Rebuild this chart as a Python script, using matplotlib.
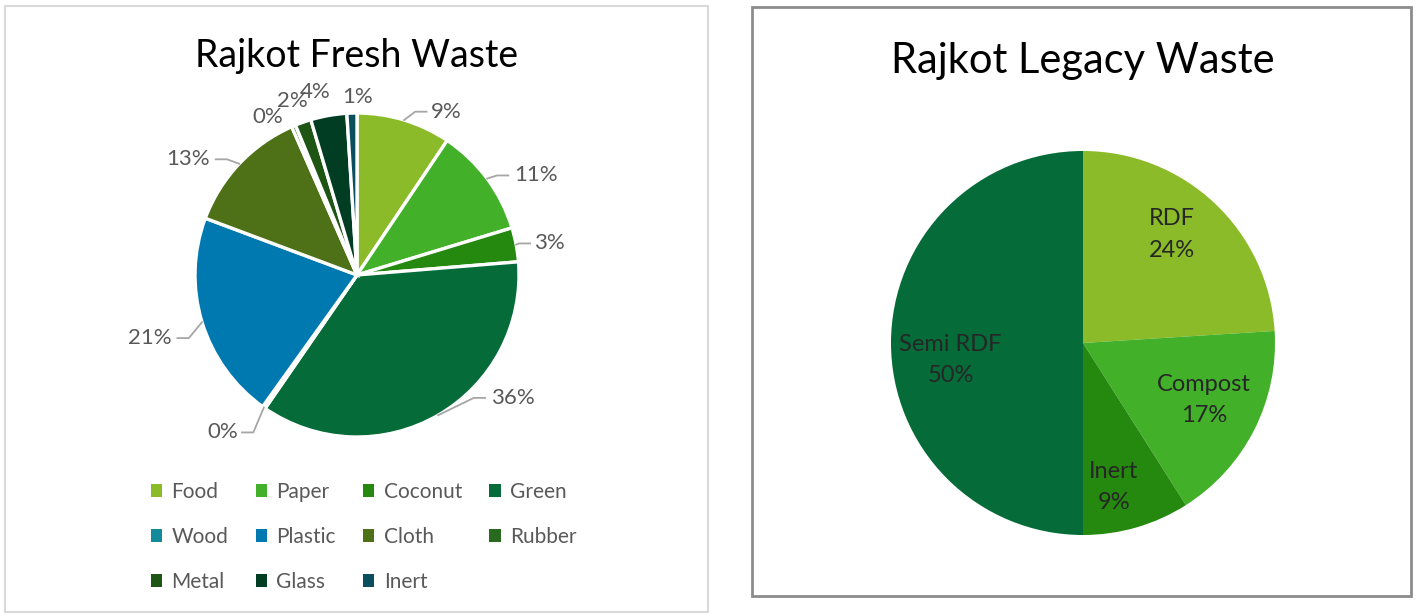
import numpy as np
import matplotlib
matplotlib.use("Agg")
import matplotlib.pyplot as plt
from matplotlib.patches import Rectangle, Patch

plt.rcParams['font.family'] = ['Lato', 'DejaVu Sans']

# fresh waste composition (%)
fresh_labels = ['Food', 'Paper', 'Coconut', 'Green', 'Wood', 'Plastic',
                'Cloth', 'Rubber', 'Metal', 'Glass', 'Inert']
fresh_values = [9.4, 10.9, 3.4, 35.9, 0.3, 20.8, 12.7, 0.4, 1.6, 3.6, 1.0]
fresh_colors = ['#8bbb29', '#43b02a', '#25880f', '#056b38', '#138a9a', '#0079b0',
                '#4e7117', '#2a6a1e', '#1e5514', '#003d22', '#0b4f5f']

# legacy waste composition (%)
legacy_labels = ['RDF', 'Compost', 'Inert', 'Semi RDF']
legacy_values = [24, 17, 9, 50]
legacy_colors = ['#8bbb29', '#43b02a', '#25880f', '#056b38']

# label nudges (Excel style placement) and which labels get a leader line
nudges = [(0.20, -0.14), (0.14, -0.10), (0.01, -0.03), (0.36, 0.28), (-0.14, 0.01),
          (-0.13, -0.04), (-0.17, -0.11), (-0.08, -0.13), (0.0, -0.06),
          (-0.05, -0.05), (0.04, -0.10)]
leaders = [True, True, True, True, True, True, True, False, False, False, False]
nudges2 = [(-0.03, 0.04), (-0.01, 0.03), (-0.04, -0.06), (0.03, -0.09)]

W, H = 1416, 615
fig = plt.figure(figsize=(W / 100, H / 100), dpi=100)

# panel borders
fig.patches.append(Rectangle((5 / W, 3 / H), 703 / W, 606 / H, transform=fig.transFigure,
                             fill=False, edgecolor='#d9d9d9', linewidth=1.5))
fig.patches.append(Rectangle((752 / W, 19 / H), 659 / W, 589 / H, transform=fig.transFigure,
                             fill=False, edgecolor='#8c8c8c', linewidth=2))

# ---- left pie ----
ax1 = fig.add_axes([33 / W, 97 / H, 648 / W, 486 / H])
wedges, _ = ax1.pie(fresh_values, colors=fresh_colors, startangle=90, counterclock=False,
                    radius=1.0, wedgeprops=dict(edgecolor='white', linewidth=2.4))
ax1.set_xlim(-2, 2)
ax1.set_ylim(-1.5, 1.5)
ax1.set_aspect('equal')
ax1.axis('off')

for w, v, (dx, dy), lead in zip(wedges, fresh_values, nudges, leaders):
    ang = np.deg2rad((w.theta1 + w.theta2) / 2)
    lx = 1.2 * np.cos(ang) + dx
    ly = 1.2 * np.sin(ang) + dy
    txt = '%.0f%%' % v
    ax1.text(lx, ly, txt, ha='center', va='center', fontsize=16, color='#595959')
    if lead:
        side = 1 if lx > 0 else -1
        hw = 0.05 * len(txt)
        end_x = lx - side * (hw + 0.02)
        elb_x = end_x - side * 0.07
        ex, ey = np.cos(ang), np.sin(ang)
        ax1.plot([ex, elb_x, end_x], [ey, ly, ly], color='#a6a6a6', linewidth=1.3)

fig.text(357 / W, 1 - 56 / H, 'Rajkot Fresh Waste', ha='center', va='center',
         fontsize=27, color='black')

# legend fills column by column, so reorder to read row by row
order = [0, 4, 8, 1, 5, 9, 2, 6, 10, 3, 7]
handles = [Patch(facecolor=fresh_colors[i], edgecolor='none') for i in order]
fig.legend(handles, [fresh_labels[i] for i in order], ncol=4, loc='upper left',
           bbox_to_anchor=(132 / W, 1 - 463 / H), frameon=False, fontsize=15,
           labelcolor='#595959', handlelength=0.55, handleheight=0.55, handletextpad=0.45,
           columnspacing=1.3, labelspacing=1.2)

# ---- right pie ----
ax2 = fig.add_axes([795 / W, 41.6 / H, 576 / W, 460.8 / H])
wedges2, _ = ax2.pie(legacy_values, colors=legacy_colors, startangle=90, counterclock=False,
                     radius=1.0, wedgeprops=dict(linewidth=0))
ax2.set_xlim(-1.5, 1.5)
ax2.set_ylim(-1.2, 1.2)
ax2.set_aspect('equal')
ax2.axis('off')

for w, name, v, (dx, dy) in zip(wedges2, legacy_labels, legacy_values, nudges2):
    ang = np.deg2rad((w.theta1 + w.theta2) / 2)
    ax2.text(0.72 * np.cos(ang) + dx, 0.72 * np.sin(ang) + dy, '%s\n%d%%' % (name, v),
             ha='center', va='center', fontsize=17, color='#262626', linespacing=1.6)

fig.text(1083 / W, 1 - 61 / H, 'Rajkot Legacy Waste', ha='center', va='center',
         fontsize=30, color='black')

fig.savefig('out.png', dpi=100)
